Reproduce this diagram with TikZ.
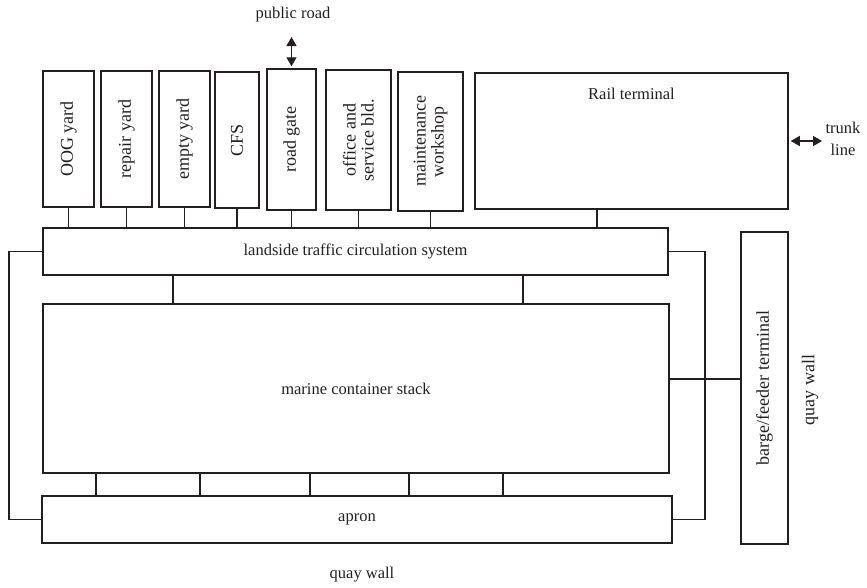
\documentclass[tikz,border=0pt]{standalone}
\usepackage{fontspec}
\setmainfont{Liberation Serif}
\usetikzlibrary{arrows.meta}
\definecolor{ink}{RGB}{35,31,32}

\begin{document}
\begin{tikzpicture}[x=1pt,y=-1pt,
  box/.style={draw=ink,line width=1.5pt,inner sep=2pt,text=ink,
    font=\fontsize{16.5}{22}\selectfont,align=center},
  vbox/.style={box,rotate=90,font=\fontsize{18}{18}\selectfont},
  conn/.style={draw=ink,line width=1.3pt},
  dbl/.style={conn,{Triangle[length=9pt,width=10pt]}-{Triangle[length=9pt,width=10pt]}},
  lbl/.style={font=\fontsize{16.5}{22}\selectfont,align=center,text=ink},
  vlbl/.style={lbl,rotate=90,font=\fontsize{18}{18}\selectfont}]
  \useasboundingbox (0,0) rectangle (867,587);

  % Landside facilities (rotated, so minimum width is the vertical size).
  \node[vbox,minimum width=136pt,minimum height=51pt] (oog) at (68.5,139) {OOG yard};
  \node[vbox,minimum width=136pt,minimum height=51pt] (repair) at (126.5,139) {repair yard};
  \node[vbox,minimum width=136pt,minimum height=51pt] (empty) at (184.5,139) {empty yard};
  \node[vbox,minimum width=136pt,minimum height=44pt] (cfs) at (237,140) {CFS};
  \node[vbox,minimum width=141pt,minimum height=49pt] (gate) at (291.5,139.5) {road gate};
  \node[vbox,minimum width=140pt,minimum height=65pt] (office) at (358.5,140) {office and\\service bld.};
  \node[vbox,minimum width=139pt,minimum height=65pt] (maint) at (430.5,141.5) {maintenance\\workshop};
  \node[box,minimum width=313pt,minimum height=136pt,
    label={[lbl,anchor=north,yshift=-12pt]north:Rail terminal}] (rail) at (631.5,141) {};

  % Main blocks of the terminal.
  \node[box,minimum width=625pt,minimum height=47pt] (land) at (355.5,251.5) {landside traffic circulation system};
  \node[box,minimum width=626pt,minimum height=169pt] (stack) at (356,388.5) {marine container stack};
  \node[box,minimum width=630pt,minimum height=47pt] (apron) at (357,519.5) {apron};
  \node[vbox,minimum width=312pt,minimum height=47pt] (barge) at (764.5,388) {barge/feeder terminal};

  % Outside labels.
  \node[lbl] (road) at (293,15) {public road};
  \node[lbl] (trunk) at (843,139) {trunk\\line};
  \node[lbl] (quay) at (362,575) {quay wall};
  \node[vlbl] (quayside) at (810,390) {quay wall};

  % Links from the facilities to the landside system.
  \foreach \n in {oog,repair,empty,cfs,gate,office,maint}
    \draw[conn] (\n.west) -- (\n.west |- land.north);
  \draw[conn] ([xshift=-34.5pt]rail.south) -- ([xshift=-34.5pt]rail.south |- land.north);

  % Landside system to stack, stack to apron.
  \foreach \x in {173,523}
    \draw[conn] (\x,0 |- land.south) -- (\x,0 |- stack.north);
  \foreach \x in {96,200,310,409,503}
    \draw[conn] (\x,0 |- stack.south) -- (\x,0 |- apron.north);

  % Loops round the stack.
  \coordinate (lloop) at (9,0);
  \coordinate (rloop) at (705,0);
  \draw[conn] (land.west) -- (land.west -| lloop) |- (apron.west);
  \draw[conn] (land.east) -- (land.east -| rloop) |- (apron.east);
  \draw[conn] ([yshift=9.5pt]stack.east) -- ([yshift=9.5pt]stack.east -| barge.north);

  % Outside connections.
  \draw[dbl,shorten <=2pt,shorten >=11pt] (gate.east) -- (gate.east |- road.south);
  \draw[dbl,shorten <=2pt] (rail.east) -- (rail.east -| trunk.west);
\end{tikzpicture}
\end{document}
